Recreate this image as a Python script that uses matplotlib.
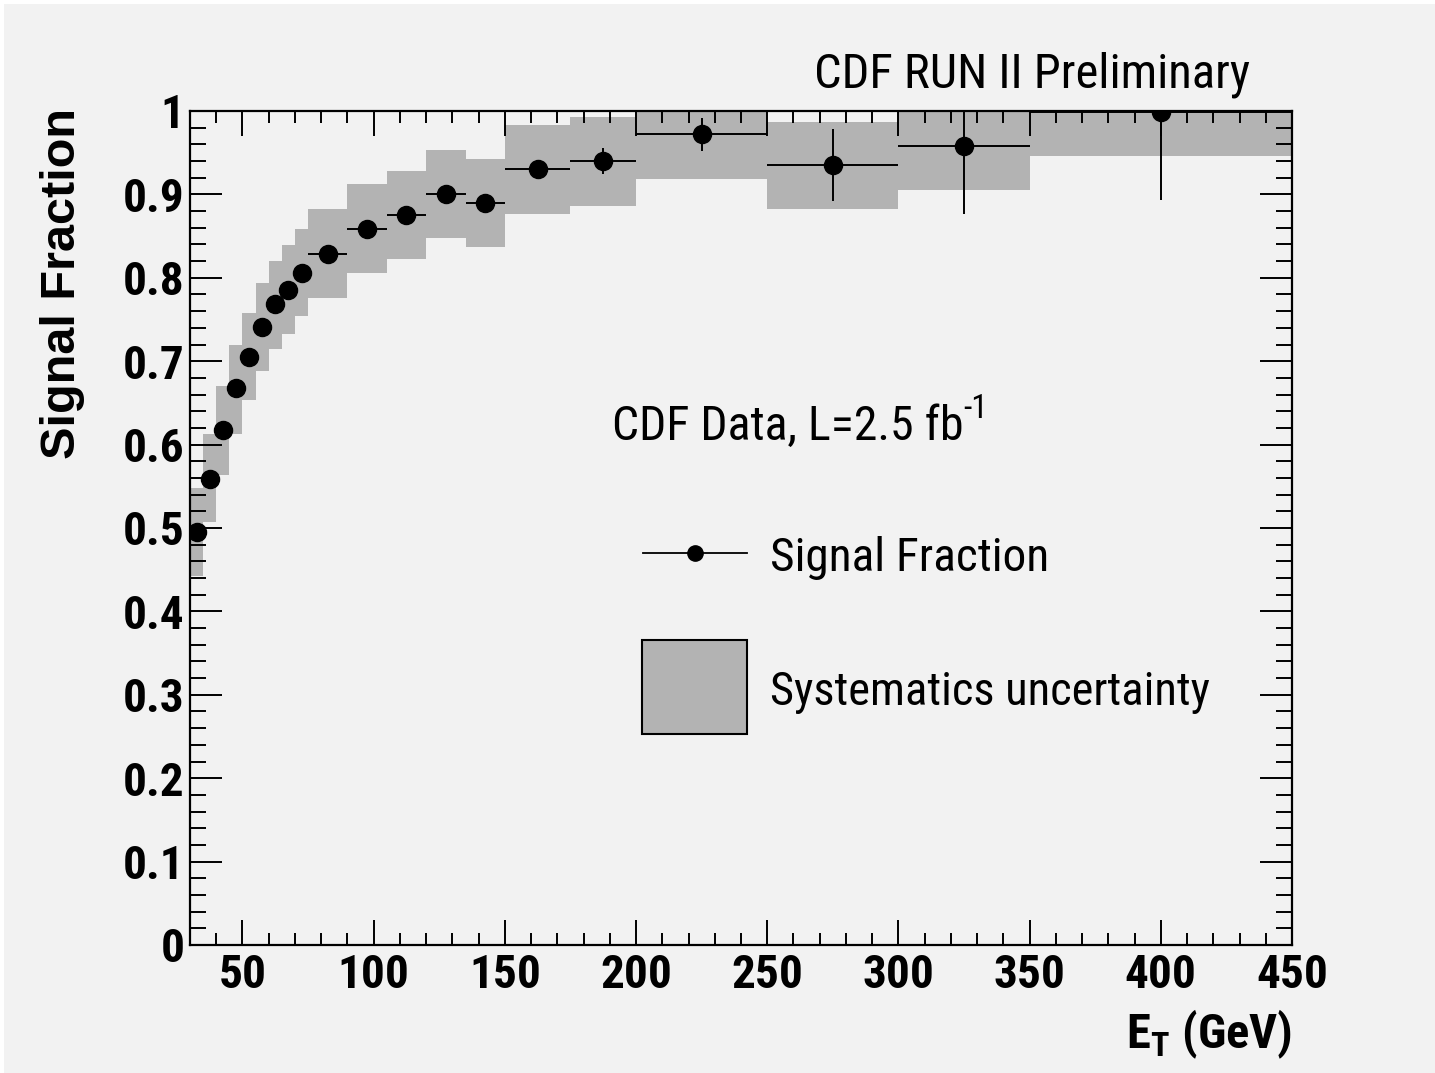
import matplotlib
matplotlib.use('Agg')
import matplotlib.pyplot as plt
from matplotlib import font_manager
from matplotlib.lines import Line2D
from matplotlib.patches import Rectangle
from matplotlib.ticker import MultipleLocator, FuncFormatter
import numpy as np

# ---------------- data ----------------
bin_lo = [30, 35, 40, 45, 50, 55, 60, 65, 70, 75, 90, 105, 120, 135, 150, 175, 200, 250, 300, 350]
bin_hi = [35, 40, 45, 50, 55, 60, 65, 70, 75, 90, 105, 120, 135, 150, 175, 200, 250, 300, 350, 450]
sig_frac = [0.495, 0.559, 0.617, 0.668, 0.705, 0.741, 0.768, 0.785, 0.806, 0.829,
            0.859, 0.875, 0.900, 0.890, 0.930, 0.940, 0.972, 0.935, 0.958, 0.999]
stat_err = [0.008, 0.008, 0.008, 0.008, 0.008, 0.008, 0.008, 0.008, 0.008, 0.008,
            0.008, 0.008, 0.008, 0.008, 0.010, 0.016, 0.020, 0.043, 0.082, 0.106]
syst_lo = [0.443, 0.507, 0.563, 0.613, 0.653, 0.688, 0.715, 0.733, 0.754, 0.776,
           0.806, 0.822, 0.848, 0.837, 0.877, 0.886, 0.919, 0.882, 0.905, 0.946]
syst_hi = [0.548, 0.613, 0.670, 0.720, 0.758, 0.794, 0.820, 0.839, 0.859, 0.882,
           0.912, 0.928, 0.953, 0.943, 0.983, 0.993, 1.025, 0.987, 1.011, 1.050]

# fonts: ROOT draws a condensed helvetica, look for any narrow family
names = sorted({f.name for f in font_manager.fontManager.ttflist})
narrow = None
for cand in ['Liberation Sans Narrow', 'Arial Narrow', 'Roboto Condensed', 'Noto Sans Condensed',
             'Open Sans Condensed', 'Nimbus Sans Narrow', 'DejaVu Sans Condensed']:
    if cand in names:
        narrow = cand
        break
if narrow is None:
    others = [n for n in names if 'Condensed' in n or 'Narrow' in n]
    narrow = others[0] if others else 'Liberation Sans'
plt.rcParams['font.family'] = [narrow, 'DejaVu Sans']

BG = '#f2f2f2'
GREY = '#b3b3b3'

W, H = 1435, 1073
fig = plt.figure(figsize=(W / 100, H / 100), dpi=100, facecolor='white')
fig.patches.append(Rectangle((4 / W, 0), 1, 1 - 4 / H, transform=fig.transFigure,
                             facecolor=BG, edgecolor='none', zorder=-10))
ax = fig.add_axes([190 / W, 1 - 945 / H, 1102 / W, 834 / H])
ax.set_facecolor(BG)

lo = np.array(bin_lo, dtype=float)
hi = np.array(bin_hi, dtype=float)
centers = (lo + hi) / 2
half = (hi - lo) / 2

# systematic bands
ax.bar(lo, np.array(syst_hi) - np.array(syst_lo), width=hi - lo, bottom=syst_lo,
       align='edge', color=GREY, linewidth=0, zorder=1)

# data points
ax.errorbar(centers, sig_frac, xerr=half, yerr=stat_err, fmt='o', color='black',
            ms=13, elinewidth=1.4, capsize=0, zorder=3)

ax.set_xlim(30, 450)
ax.set_ylim(0, 1)
ax.xaxis.set_major_locator(MultipleLocator(50))
ax.xaxis.set_minor_locator(MultipleLocator(10))
ax.yaxis.set_major_locator(MultipleLocator(0.1))
ax.yaxis.set_minor_locator(MultipleLocator(0.02))
ax.yaxis.set_major_formatter(FuncFormatter(lambda v, p: f'{v:g}'))

ax.tick_params(axis='both', which='both', direction='in', top=True, right=True,
               width=1.4, colors='black', labelsize=34)
ax.tick_params(axis='x', which='major', length=18, pad=6)
ax.tick_params(axis='x', which='minor', length=8.5)
ax.tick_params(axis='y', which='major', length=23, pad=4)
ax.tick_params(axis='y', which='minor', length=11.5)
for lab in ax.get_xticklabels() + ax.get_yticklabels():
    lab.set_fontweight('bold')
for sp in ax.spines.values():
    sp.set_linewidth(1.6)

ax.set_ylabel('Signal Fraction', loc='top', fontsize=35, fontweight='bold',
              family=['Liberation Sans', 'DejaVu Sans'])
ax.yaxis.set_label_coords((85 - 190) / 1102, 1.004)
ax.set_xlabel(r'E$_{\mathregular{T}}$ (GeV)', loc='right', fontsize=35, fontweight='bold')
ax.xaxis.set_label_coords(1.0, -0.075)

fig.text(1250 / W, 1 - 88 / H, 'CDF RUN II Preliminary', ha='right', va='baseline', fontsize=35)
lumi = fig.text(612 / W, 1 - 440 / H, 'CDF Data, L=2.5 fb', ha='left', va='baseline', fontsize=34.5)
ax.annotate('-1', xy=(1, 1), xycoords=lumi, xytext=(0, 8), textcoords='offset points',
            ha='left', va='top', fontsize=24)

# legend drawn by hand, ROOT TLegend style
fig.add_artist(Line2D([643 / W, 747 / W], [1 - 553 / H] * 2, transform=fig.transFigure,
                      color='black', lw=1.3))
fig.add_artist(Line2D([695 / W], [1 - 553 / H], transform=fig.transFigure,
                      color='black', marker='o', ms=11, lw=0))
fig.add_artist(Rectangle((642 / W, 1 - 734 / H), 105 / W, 94 / H, transform=fig.transFigure,
                         facecolor=GREY, edgecolor='black', lw=1.5))
fig.text(770 / W, 1 - 553 / H, 'Signal Fraction', ha='left', va='center_baseline', fontsize=34)
fig.text(770 / W, 1 - 688 / H, 'Systematics uncertainty', ha='left', va='center_baseline', fontsize=33.5)

fig.savefig('out.png', dpi=100, facecolor=fig.get_facecolor())
